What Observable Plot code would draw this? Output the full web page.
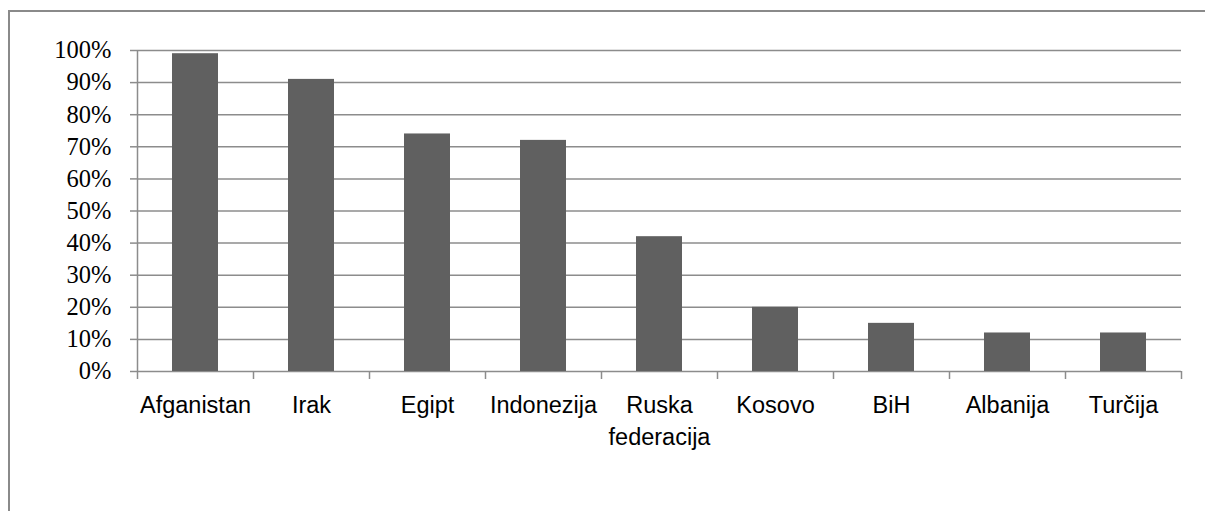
<!DOCTYPE html>
<html><head><meta charset="utf-8">
<script src="https://cdn.jsdelivr.net/npm/d3@7"></script>
<script src="https://cdn.jsdelivr.net/npm/@observablehq/plot@0.6"></script>
<style>
html,body{margin:0;padding:0;background:#fff;overflow:hidden;width:1205px;height:511px;}
#frame{position:absolute;left:8px;top:10px;width:1300px;height:700px;border:2px solid #8a8a8a;box-sizing:border-box;}
#chart{position:absolute;left:0;top:0;}
</style></head><body>
<div id="frame"></div><div id="chart"></div>
<script>
const countries = ["Afganistan","Irak","Egipt","Indonezija","Ruska federacija","Kosovo","BiH","Albanija","Turčija"];
const shares = [0.99,0.91,0.74,0.72,0.42,0.20,0.15,0.12,0.12];
const yTicks = [0,0.1,0.2,0.3,0.4,0.5,0.6,0.7,0.8,0.9,1.0];

const data = countries.map((c,i)=>({country:c, share:shares[i]}));
const W=1205,H=511, ml=137, mr=24, mt=50, mb=140;
const step = (W-ml-mr)/countries.length;
const grid = "#8c8c8c";

const chart = Plot.plot({
  width:W, height:H, marginLeft:ml, marginRight:mr, marginTop:mt, marginBottom:mb,
  style:{background:"transparent", overflow:"visible"},
  x:{domain:countries, paddingInner:0.6, paddingOuter:0.3, axis:null},
  y:{domain:[0,1], axis:null},
  marks:[
    Plot.ruleY(yTicks,{stroke:grid, strokeWidth:1.5}),
    Plot.ruleX([countries[0]],{x:d=>d, dx:-step/2, y1:0, y2:1, stroke:grid, strokeWidth:1.5}),
    Plot.axisY({ticks:yTicks, tickFormat:d=>Math.round(d*100)+"%", tickSize:7, tickPadding:19,
      stroke:grid, strokeWidth:1.5, fill:"#000", fontFamily:"Liberation Serif", fontSize:24.5, label:null}),
    Plot.axisX({tickFormat:()=>"", tickSize:8, dx:-step/2, stroke:grid, strokeWidth:1.5, label:null}),
    Plot.axisX({ticks:[countries[countries.length-1]], tickFormat:()=>"", tickSize:8, dx:step/2, stroke:grid, strokeWidth:1.5, label:null}),
    Plot.axisX({tickSize:0, tickPadding:19, tickFormat:d=>d.replace(" ","\n"), lineHeight:1.36,
      fill:"#000", fontFamily:"Liberation Sans", fontSize:23.5, label:null}),
    Plot.barY(data,{x:"country", y:"share", fill:"#606060"})
  ]
});
document.getElementById("chart").appendChild(chart);
</script>
</body></html>
